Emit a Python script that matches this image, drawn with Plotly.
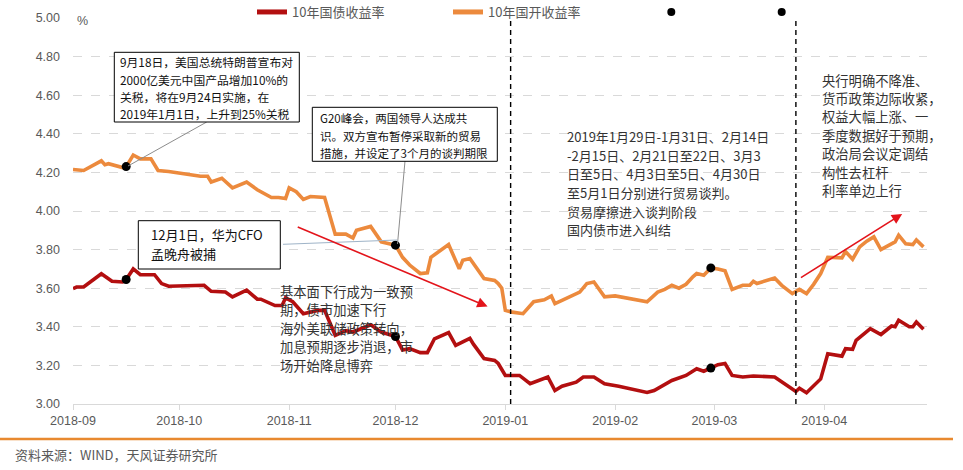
import plotly.graph_objects as go

# ---------------- data ----------------
cdb_dates = ["2018-09-01","2018-09-04","2018-09-09","2018-09-10","2018-09-11","2018-09-15","2018-09-16",
             "2018-09-18","2018-09-20","2018-09-23","2018-09-25","2018-09-28","2018-10-07","2018-10-09",
             "2018-10-10","2018-10-13","2018-10-16","2018-10-20","2018-10-23","2018-10-27","2018-10-29",
             "2018-10-31","2018-11-01","2018-11-03","2018-11-05","2018-11-07","2018-11-11","2018-11-14",
             "2018-11-17","2018-11-19","2018-11-20","2018-11-24","2018-11-27","2018-12-01","2018-12-03",
             "2018-12-05","2018-12-08","2018-12-10","2018-12-11","2018-12-16","2018-12-19","2018-12-20",
             "2018-12-22","2018-12-26","2018-12-29","2018-12-30","2018-12-31","2019-01-01","2019-01-03",
             "2019-01-06","2019-01-09","2019-01-12","2019-01-14","2019-01-15","2019-01-17","2019-01-20",
             "2019-01-22","2019-01-24","2019-01-26","2019-01-29","2019-02-01","2019-02-10","2019-02-13",
             "2019-02-15","2019-02-17","2019-02-19","2019-02-21","2019-02-23","2019-02-24","2019-02-26",
             "2019-02-28","2019-03-02","2019-03-04","2019-03-06","2019-03-09","2019-03-11","2019-03-12",
             "2019-03-13","2019-03-18","2019-03-20","2019-03-23","2019-03-25","2019-03-27","2019-03-29",
             "2019-03-31","2019-04-02","2019-04-06","2019-04-07","2019-04-09","2019-04-11","2019-04-13",
             "2019-04-15","2019-04-17","2019-04-21","2019-04-22","2019-04-24","2019-04-26","2019-04-27",
             "2019-04-29"]
cdb_yield = [4.215,4.21,4.26,4.24,4.245,4.225,4.23,
             4.29,4.27,4.27,4.21,4.205,4.18,4.18,
             4.15,4.17,4.12,4.15,4.11,4.07,4.07,
             4.065,4.12,4.10,4.06,4.075,4.07,3.88,
             3.88,3.86,3.90,3.92,3.84,3.823,3.76,
             3.72,3.676,3.68,3.76,3.826,3.70,3.745,
             3.754,3.65,3.64,3.624,3.60,3.485,3.476,
             3.468,3.53,3.54,3.56,3.52,3.537,3.563,
             3.58,3.624,3.632,3.555,3.56,3.53,3.58,
             3.594,3.615,3.60,3.62,3.66,3.676,3.667,
             3.705,3.70,3.69,3.594,3.615,3.615,3.636,
             3.624,3.653,3.615,3.572,3.594,3.572,3.62,
             3.676,3.76,3.757,3.79,3.75,3.814,3.844,
             3.866,3.80,3.84,3.875,3.83,3.826,3.85,
             3.814]

cgb_dates = ["2018-09-01","2018-09-02","2018-09-04","2018-09-06","2018-09-07","2018-09-09","2018-09-12",
             "2018-09-15","2018-09-16","2018-09-18","2018-09-20","2018-09-24","2018-09-26","2018-09-28",
             "2018-10-08","2018-10-10","2018-10-14","2018-10-16","2018-10-20","2018-10-23","2018-10-24",
             "2018-10-28","2018-10-30","2018-10-31","2018-11-02","2018-11-05","2018-11-09","2018-11-11",
             "2018-11-14","2018-11-17","2018-11-19","2018-11-24","2018-11-27","2018-12-01","2018-12-03",
             "2018-12-05","2018-12-08","2018-12-10","2018-12-12","2018-12-16","2018-12-18","2018-12-22",
             "2018-12-23","2018-12-26","2018-12-29","2018-12-30","2019-01-01","2019-01-05","2019-01-08",
             "2019-01-13","2019-01-15","2019-01-17","2019-01-21","2019-01-23","2019-01-26","2019-01-29",
             "2019-02-02","2019-02-10","2019-02-12","2019-02-17","2019-02-21","2019-02-24","2019-02-26",
             "2019-02-28","2019-03-02","2019-03-04","2019-03-06","2019-03-09","2019-03-12","2019-03-18",
             "2019-03-21","2019-03-24","2019-03-25","2019-03-27","2019-03-31","2019-04-02","2019-04-06",
             "2019-04-07","2019-04-09","2019-04-10","2019-04-14","2019-04-17","2019-04-20","2019-04-21",
             "2019-04-22","2019-04-25","2019-04-26","2019-04-27","2019-04-29"]
cgb_yield = [3.598,3.606,3.606,3.636,3.65,3.675,3.636,
             3.632,3.645,3.70,3.67,3.67,3.624,3.61,
             3.615,3.584,3.58,3.555,3.59,3.543,3.543,
             3.51,3.51,3.55,3.53,3.468,3.485,3.485,
             3.356,3.38,3.373,3.41,3.373,3.35,3.28,
             3.287,3.266,3.266,3.338,3.37,3.304,3.34,
             3.31,3.235,3.226,3.21,3.148,3.148,3.105,
             3.14,3.07,3.092,3.113,3.14,3.14,3.105,
             3.092,3.06,3.07,3.122,3.148,3.183,3.17,
             3.186,3.204,3.21,3.148,3.14,3.145,3.14,
             3.10,3.065,3.082,3.058,3.13,3.26,3.248,
             3.287,3.283,3.33,3.39,3.36,3.404,3.40,
             3.434,3.40,3.40,3.425,3.387]

event_dates = ["2018-09-16", "2018-12-01", "2019-02-28"]
event_cdb = [4.23, 3.823, 3.705]
event_cgb = [3.645, 3.35, 3.186]

phase_lines = ["2019-01-02 12:00", "2019-03-24"]

y_ticks = [3.0, 3.2, 3.4, 3.6, 3.8, 4.0, 4.2, 4.4, 4.6, 4.8, 5.0]
x_ticks = ["2018-09-01","2018-10-01","2018-11-01","2018-12-01","2019-01-01","2019-02-01","2019-03-01","2019-04-01"]
x_tick_labels = ["2018-09","2018-10","2018-11","2018-12","2019-01","2019-02","2019-03","2019-04"]

trend_down = (("2018-11-03", 3.92), ("2018-12-27", 3.505))
trend_up = (("2019-03-25", 3.65), ("2019-04-23", 3.985))

box1_lines = ["9月18日，美国总统特朗普宣布对", "2000亿美元中国产品增加10%的",
              "关税，将在9月24日实施，在", "2019年1月1日，上升到25%关税"]
box2_lines = ["G20峰会，两国领导人达成共", "识。双方宣布暂停采取新的贸易", "措施，并设定了3个月的谈判期限"]
box3_lines = ["12月1日，华为CFO", "孟晚舟被捕"]
text_a = ["基本面下行成为一致预", "期，债市加速下行", "海外美联储政策转向，", "加息预期逐步消退，市", "场开始降息博弈"]
text_b = ["2019年1月29日-1月31日、2月14日", "-2月15日、2月21日至22日、3月3", "日至5日、4月3日至5日、4月30日",
          "至5月1日分别进行贸易谈判。", "贸易摩擦进入谈判阶段", "国内债市进入纠结"]
text_c = ["央行明确不降准、", "货币政策边际收紧，", "权益大幅上涨、一", "季度数据好于预期，", "政治局会议定调结", "构性去杠杆", "利率单边上行"]

# ---------------- styling / layout ----------------
W, H = 963, 470
ML, MR, MT, MB = 73, 36, 18, 66
PW, PH = W - ML - MR, H - MT - MB

def px(x):
    return (x - ML) / PW

def py(y):
    return (H - MB - y) / PH

RED = "#B30F10"
ORANGE = "#EC8A3D"
GRAY = "#595959"
FONT = "Liberation Sans, Arial, Noto Sans CJK SC, sans-serif"
CJK = "Noto Sans CJK SC, Microsoft YaHei, sans-serif"

fig = go.Figure()
fig.add_trace(go.Scatter(x=cgb_dates, y=cgb_yield, mode="lines", name="10年国债收益率",
                         line=dict(color=RED, width=3.6)))
fig.add_trace(go.Scatter(x=cdb_dates, y=cdb_yield, mode="lines", name="10年国开收益率",
                         line=dict(color=ORANGE, width=3.6)))
fig.add_trace(go.Scatter(x=event_dates + event_dates, y=event_cdb + event_cgb, mode="markers",
                         showlegend=False, marker=dict(color="black", size=9)))

shapes = []
for d in phase_lines:
    shapes.append(dict(type="line", xref="x", yref="y", x0=d, x1=d, y0=3.0, y1=5.0,
                       line=dict(color="black", width=1.4, dash="5px,4px")))

# annotation boxes
def rect(x0, y0, x1, y1):
    shapes.append(dict(type="rect", xref="paper", yref="paper", x0=px(x0), x1=px(x1), y0=py(y0), y1=py(y1),
                       line=dict(color="black", width=1), fillcolor="white", layer="above"))

def seg(x0, y0, x1, y1, color="#8c8c8c", width=1):
    shapes.append(dict(type="line", xref="paper", yref="paper", x0=px(x0), x1=px(x1), y0=py(y0), y1=py(y1),
                       line=dict(color=color, width=width), layer="above"))

seg(206.7, 122, 128, 166)
seg(405, 161, 397.5, 244)
seg(283, 244.3, 397, 240, color="#9fb4c8")
rect(114.3, 52.3, 299.3, 122)
rect(312.3, 107.3, 497.3, 161.3)
rect(138.3, 220.7, 280.3, 269)

# bottom orange rule
shapes.append(dict(type="line", xref="paper", yref="paper", x0=px(0), x1=px(953), y0=py(439), y1=py(439),
                   line=dict(color="#E8892F", width=2.5)))

# legend-area dots
for cx in (671.3, 781.7):
    shapes.append(dict(type="circle", xref="paper", yref="paper", x0=px(cx - 4), x1=px(cx + 4),
                       y0=py(12 + 4), y1=py(12 - 4), fillcolor="black", line=dict(width=0)))

annotations = []

def block(lines, left, top_center, spacing, size, color):
    for i, t in enumerate(lines):
        annotations.append(dict(text=t, xref="paper", yref="paper", x=px(left), y=py(top_center + i * spacing),
                                xanchor="left", yanchor="middle", showarrow=False,
                                font=dict(family=CJK, size=size, color=color)))

block(box1_lines, 118, 62, 17.1, 11.8, "#111111")
block(box2_lines, 318, 118.3, 17.2, 11.5, "#111111")
block(box3_lines, 148.5, 234.3, 19, 13, "#111111")
block(text_a, 277.5, 291, 18.5, 13.3, "#333333")
block(text_b, 565, 136.7, 18.6, 13, "#333333")
block(text_c, 820, 80, 18.45, 13.3, "#333333")

# trend arrows
for (start, end) in (trend_down, trend_up):
    annotations.append(dict(x=end[0], y=end[1], ax=start[0], ay=start[1], xref="x", yref="y",
                            axref="x", ayref="y", showarrow=True, arrowhead=2, arrowsize=1.3,
                            arrowwidth=1.6, arrowcolor="#E3141B", text=""))

annotations.append(dict(text="%", xref="paper", yref="paper", x=px(82), y=py(20.5), showarrow=False,
                        xanchor="center", yanchor="middle", font=dict(family=FONT, size=12.5, color=GRAY)))
annotations.append(dict(text="资料来源：WIND，天风证券研究所", xref="paper", yref="paper", x=px(13), y=py(454),
                        showarrow=False, xanchor="left", yanchor="middle",
                        font=dict(family=CJK, size=13, color=GRAY)))

fig.update_layout(
    width=W, height=H,
    margin=dict(l=ML, r=MR, t=MT, b=MB, autoexpand=False),
    paper_bgcolor="white", plot_bgcolor="white",
    font=dict(family=FONT, size=12.5, color=GRAY),
    showlegend=True,
    legend=dict(orientation="h", x=px(252), xanchor="left", y=py(12), yanchor="middle",
                entrywidth=151, entrywidthmode="pixels", bgcolor="rgba(0,0,0,0)",
                font=dict(family=CJK, size=13, color=GRAY), itemsizing="constant"),
    xaxis=dict(type="date", range=["2018-09-01", "2019-04-30"], tickmode="array", tickvals=x_ticks,
               ticktext=x_tick_labels, showgrid=False, showline=True, linecolor="#d9d9d9", linewidth=1,
               ticks="outside", ticklen=5, tickcolor="#d9d9d9", zeroline=False,
               tickfont=dict(family=FONT, size=12.5, color=GRAY)),
    yaxis=dict(range=[3.0, 5.0], tickmode="array", tickvals=y_ticks,
               ticktext=[f"{v:.2f}" for v in y_ticks], showgrid=True, gridcolor="#d9d9d9",
               griddash="dash", gridwidth=1, zeroline=False, showline=False, ticks="",
               ticklabelstandoff=12, tickfont=dict(family=FONT, size=12.5, color=GRAY)),
    shapes=shapes,
    annotations=annotations,
)

fig.write_html("out.html", config={"displayModeBar": False},
               post_script="document.body.style.margin='0';document.body.style.padding='0';")
